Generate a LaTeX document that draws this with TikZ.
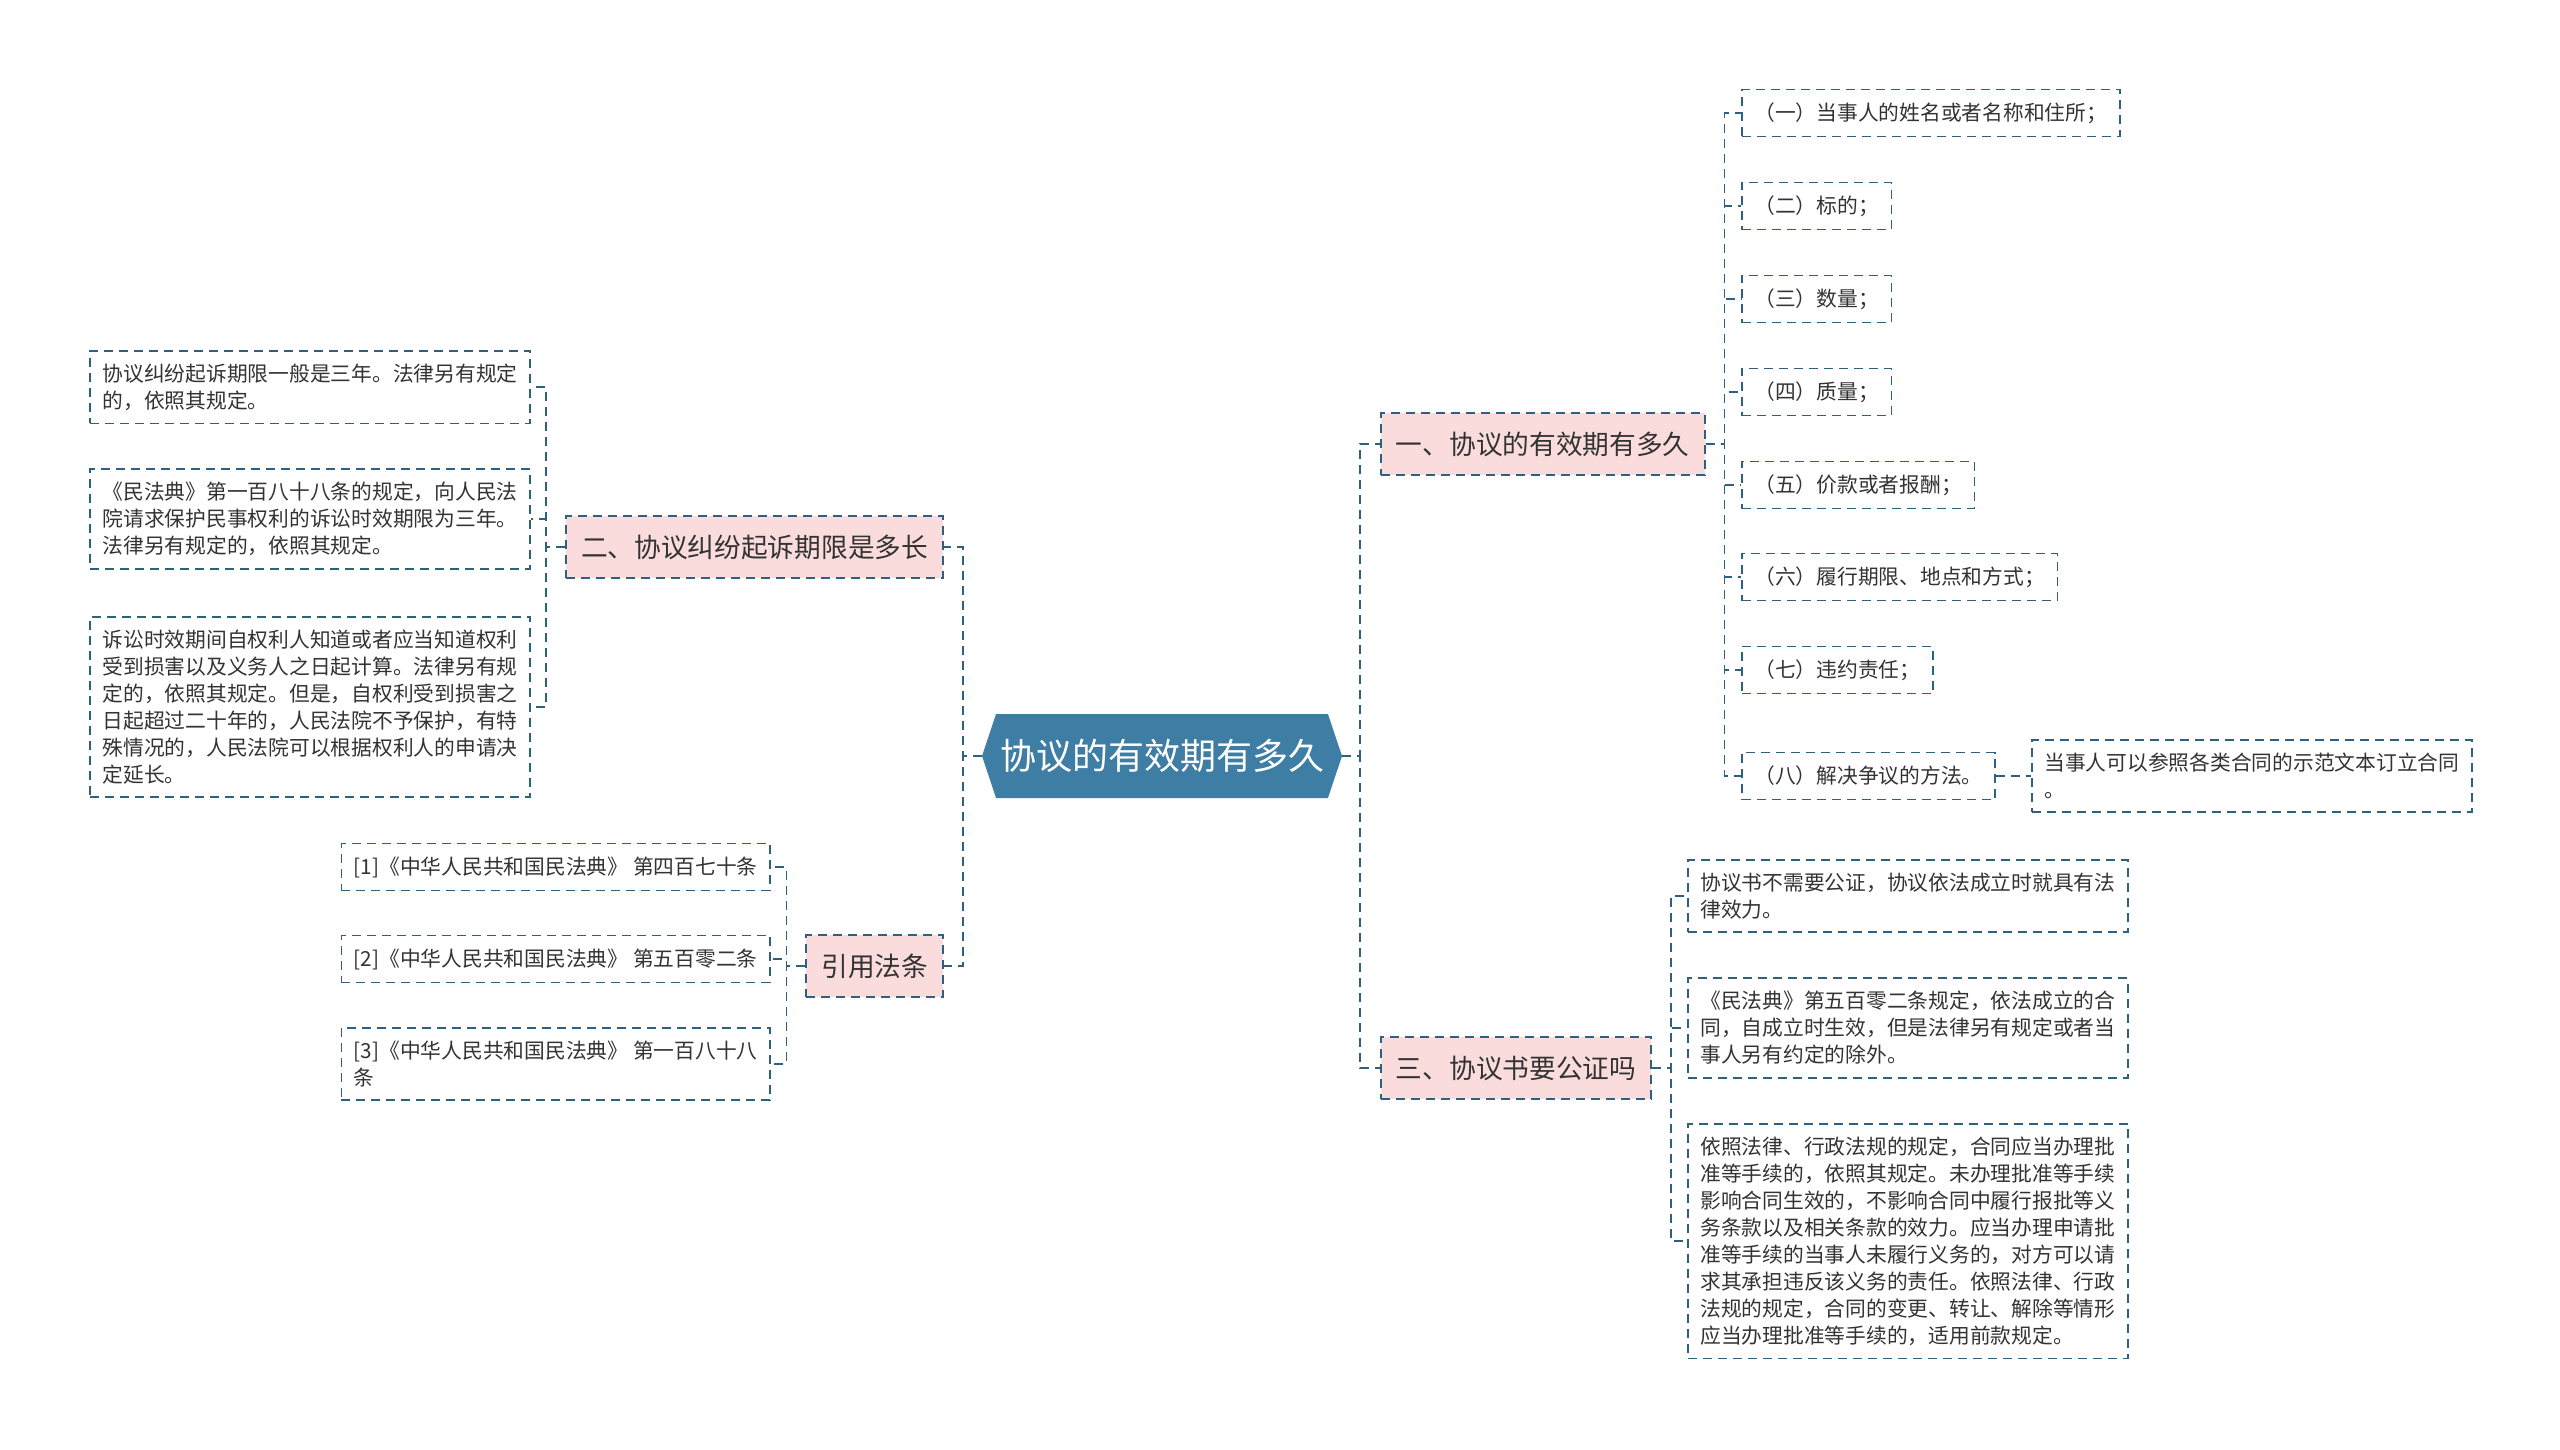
\documentclass[tikz,border=0pt]{standalone}
\usepackage{fontspec}
\setmainfont{Noto Sans CJK SC}
\usepackage{tikz}
\usetikzlibrary{shapes.symbols, positioning}
\definecolor{linecol}{RGB}{46,96,128}
\definecolor{rootfill}{RGB}{62,125,164}
\definecolor{pinkfill}{RGB}{250,220,220}
\definecolor{txtcol}{RGB}{51,51,51}

\begin{document}
\begin{tikzpicture}[
  x=1pt, y=-1pt,
  root/.style={signal, signal to=east and west, signal pointer angle=143, fill=rootfill, draw=none, text=white, minimum width=360pt, minimum height=84pt, inner sep=0pt, font=\fontsize{36}{40}\selectfont},
  branch/.style={draw=linecol, line width=1.8pt, dash pattern=on 9pt off 6pt, fill=pinkfill, text=txtcol, inner xsep=15pt, minimum height=62pt, font=\fontsize{26.7}{30}\selectfont},
  leaf/.style={draw=linecol, line width=1.8pt, dash pattern=on 9pt off 6pt, fill=white, text=txtcol, align=left, inner xsep=12.5pt, inner ysep=13pt, minimum height=47pt, font=\fontsize{20.75}{27}\selectfont},
  link/.style={draw=linecol, line width=1.8pt, dash pattern=on 9pt off 6pt}
]
  \useasboundingbox (0,0) rectangle (2560,1449);
  \fill[white] (0,0) rectangle (2560,1449);

  % 中心主题
  \node[root] (root) at (1162,756) {协议的有效期有多久};

  % 一级分支
  \node[branch, anchor=west] (b1) at (1380,444) {一、协议的有效期有多久};
  \node[branch, anchor=west] (b3) at (1380,1068) {三、协议书要公证吗};
  \node[branch, anchor=east] (b2) at (944,547) {二、协议纠纷起诉期限是多长};
  \node[branch, anchor=east] (b4) at (944,966) {引用法条};

  \foreach \b in {b1,b3} {
    \draw[link] (root.east) -- ++(18,0) |- (\b.west);
  }
  \foreach \b in {b2,b4} {
    \draw[link] (root.west) -- ++(-19,0) |- (\b.east);
  }

  % 一、协议的有效期有多久
  \foreach \y/\t [count=\i] in {113/{（一）当事人的姓名或者名称和住所；}, 206/{（二）标的；},
      299/{（三）数量；}, 392/{（四）质量；}, 485/{（五）价款或者报酬；},
      577/{（六）履行期限、地点和方式；}, 670/{（七）违约责任；}, 776/{（八）解决争议的方法。}} {
    \node[leaf, anchor=west] (c1\i) at (1741,\y) {\t};
    \draw[link] (b1.east) -- ++(19,0) |- (c1\i.west);
  }
  \node[leaf, anchor=west] (g18) at (2031,776) {当事人可以参照各类合同的示范文本订立合同\\。};
  \draw[link] (c18.east) -- ++(19,0) |- (g18.west);

  % 三、协议书要公证吗
  \foreach \y/\t [count=\i] in {
      896/{协议书不需要公证，协议依法成立时就具有法\\律效力。},
      1028/{《民法典》第五百零二条规定，依法成立的合\\同，自成立时生效，但是法律另有规定或者当\\事人另有约定的除外。},
      1241/{依照法律、行政法规的规定，合同应当办理批\\准等手续的，依照其规定。未办理批准等手续\\影响合同生效的，不影响合同中履行报批等义\\务条款以及相关条款的效力。应当办理申请批\\准等手续的当事人未履行义务的，对方可以请\\求其承担违反该义务的责任。依照法律、行政\\法规的规定，合同的变更、转让、解除等情形\\应当办理批准等手续的，适用前款规定。}} {
    \node[leaf, anchor=west] (c3\i) at (1687,\y) {\t};
    \draw[link] (b3.east) -- ++(19,0) |- (c3\i.west);
  }

  % 二、协议纠纷起诉期限是多长
  \foreach \y/\t [count=\i] in {
      387/{协议纠纷起诉期限一般是三年。法律另有规定\\的，依照其规定。},
      519/{《民法典》第一百八十八条的规定，向人民法\\院请求保护民事权利的诉讼时效期限为三年。\\法律另有规定的，依照其规定。},
      707/{诉讼时效期间自权利人知道或者应当知道权利\\受到损害以及义务人之日起计算。法律另有规\\定的，依照其规定。但是，自权利受到损害之\\日起超过二十年的，人民法院不予保护，有特\\殊情况的，人民法院可以根据权利人的申请决\\定延长。}} {
    \node[leaf, anchor=east] (c2\i) at (531,\y) {\t};
    \draw[link] (b2.west) -- ++(-19,0) |- (c2\i.east);
  }

  % 引用法条
  \foreach \y/\t [count=\i] in {
      867/{[1]《中华人民共和国民法典》 第四百七十条},
      959/{[2]《中华人民共和国民法典》 第五百零二条},
      1064/{[3]《中华人民共和国民法典》 第一百八十八\\条}} {
    \node[leaf, anchor=east] (c4\i) at (771,\y) {\t};
    \draw[link] (b4.west) -- ++(-19,0) |- (c4\i.east);
  }
\end{tikzpicture}
\end{document}
